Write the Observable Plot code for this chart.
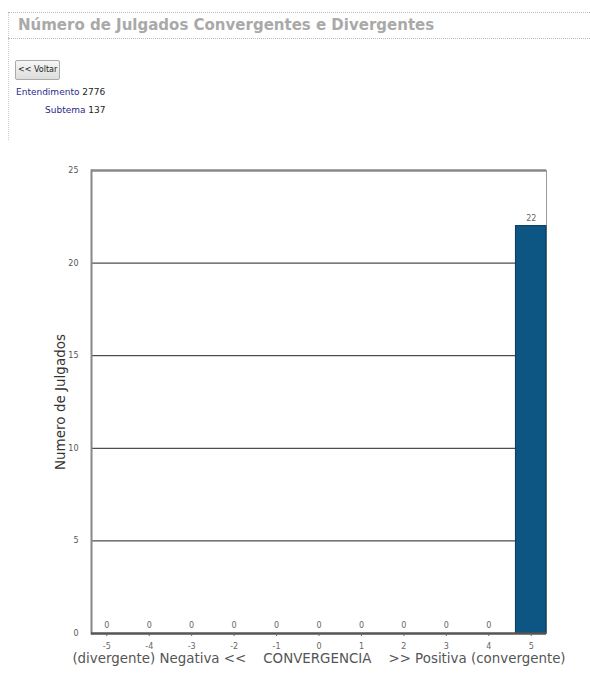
<!DOCTYPE html>
<html><head><meta charset="utf-8">
<script src="https://cdn.jsdelivr.net/npm/d3@7"></script>
<script src="https://cdn.jsdelivr.net/npm/@observablehq/plot@0.6"></script>
<style>
body{margin:0;background:#fff;font-family:"DejaVu Sans",Verdana,sans-serif;width:590px;height:700px;overflow:hidden;position:relative}
#vline{position:absolute;left:8px;top:12px;width:0;height:690px;border-left:1px dotted #ccc}
#title{position:absolute;left:8px;top:12px;width:582px;height:25px;border-top:1px dotted #bbb;border-bottom:1px dotted #bbb;}
#title span{position:absolute;left:10px;top:3px;font-weight:bold;font-size:15px;color:#a9a9a9;white-space:nowrap}
#btn{position:absolute;left:15px;top:60px;height:18px;padding:0 2px;border:1px solid #aaa;border-radius:2px;background:linear-gradient(#f6f6f6,#ddd);font-size:8px;line-height:18px;color:#222}
#ent{position:absolute;left:16px;top:87px;font-size:9px;color:#222}
#sub{position:absolute;left:45px;top:105px;font-size:9px;color:#222}
.lnk{color:#2a2a8a}
#chart{position:absolute;left:0;top:140px}
</style></head>
<body>
<div id="vline"></div>
<div id="title"><span>Número de Julgados Convergentes e Divergentes</span></div>
<div id="btn">&lt;&lt; Voltar</div>
<div id="ent"><span class="lnk">Entendimento</span> 2776</div>
<div id="sub"><span class="lnk">Subtema</span> 137</div>
<div id="chart"></div>
<script>
const categories = ["-5","-4","-3","-2","-1","0","1","2","3","4","5"];
const values = [0,0,0,0,0,0,0,0,0,0,22];
const yTicks = [0,5,10,15,20,25];
const yLabel = "Numero de Julgados";
const xLabel = "(divergente) Negativa <<    CONVERGENCIA    >> Positiva (convergente)";

const data = categories.map((c,i)=>({cat:c, value:values[i]}));

const chart = Plot.plot({
  width: 590,
  height: 560,
  marginLeft: 91,
  marginRight: 44,
  marginTop: 30,
  marginBottom: 67,
  style:{fontFamily:'"DejaVu Sans",Verdana,sans-serif', background:"#fff"},
  x:{domain:categories, paddingInner:0.28, paddingOuter:0, round:false, label:null},
  y:{domain:[0,25], ticks:yTicks, label:null},
  marks:[
    Plot.ruleY(yTicks.filter(t=>t>0 && t<25), {stroke:"#222", strokeWidth:1}),
    Plot.ruleY([25], {stroke:"#888", strokeWidth:2.5}),
    Plot.frame({anchor:"left", stroke:"#888", strokeWidth:2}),
    Plot.frame({anchor:"right", stroke:"#999", strokeWidth:1}),
    Plot.barY(data, {x:"cat", y:"value", fill:"#0d5582", stroke:"#093a5a", strokeWidth:1}),
    Plot.ruleY([0], {stroke:"#555", strokeWidth:2.5}),
    Plot.text(data, {x:"cat", y:"value", text:d=>String(d.value), dy:-8, fontSize:8, fill:"#666"}),
    Plot.axisY({ticks:yTicks, tickSize:0, tickPadding:13, fontSize:8, color:"#555", label:null}),
    Plot.axisX({tickSize:3, tickPadding:7, fontSize:8, color:"#666", label:null}),
    Plot.text([yLabel], {frameAnchor:"left", textAnchor:"middle", dx:-31, rotate:-90, fontSize:13.5, fill:"#333"}),
    Plot.text([xLabel], {frameAnchor:"bottom", dy:29, fontSize:13.4, fill:"#555"})
  ]
});
document.getElementById("chart").appendChild(chart);
</script>
</body></html>
